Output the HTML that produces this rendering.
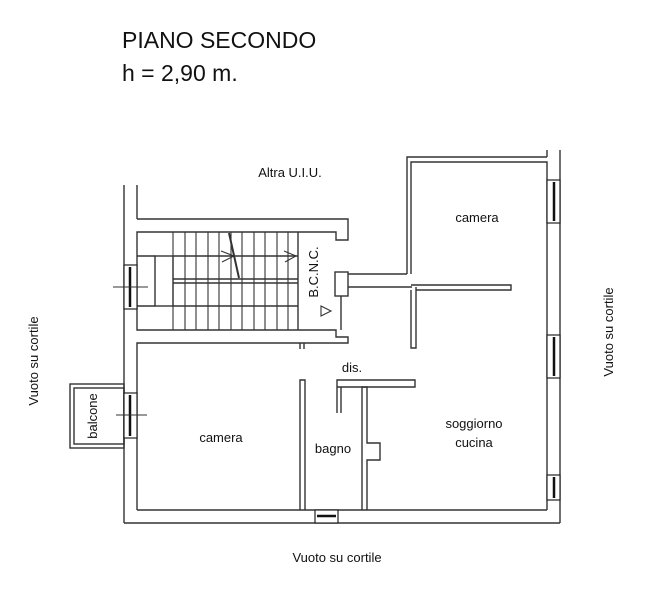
<!DOCTYPE html>
<html><head><meta charset="utf-8"><style>
html,body{margin:0;padding:0;background:#fff;width:648px;height:600px;overflow:hidden}
svg{display:block}
text{font-family:"Liberation Sans",Arial,sans-serif;fill:#111}
</style></head><body>
<svg width="648" height="600" viewBox="0 0 648 600" xmlns="http://www.w3.org/2000/svg">
<rect width="648" height="600" fill="#fff"/>
<text x="122" y="48" font-size="23">PIANO SECONDO</text>
<text x="122" y="81" font-size="23">h = 2,90 m.</text>
<text x="290" y="177" font-size="13" text-anchor="middle">Altra U.I.U.</text>
<text transform="translate(38,361) rotate(-90)" font-size="13" text-anchor="middle">Vuoto su cortile</text>
<text transform="translate(613,332) rotate(-90)" font-size="13" text-anchor="middle">Vuoto su cortile</text>
<text x="337" y="562" font-size="13" text-anchor="middle">Vuoto su cortile</text>

<g fill="none" stroke="#333" stroke-width="1.4">
<!-- outer left wall -->
<line x1="124" y1="185" x2="124" y2="523"/>
<line x1="137" y1="185" x2="137" y2="219"/>
<!-- stair block -->
<polyline points="137,219 348,219 348,240 336,240 336,232 137,232 137,330 336,330 336,337 348,337 348,343 137,343 137,510"/>
<!-- bottom -->
<line x1="124" y1="523" x2="560" y2="523"/>
<line x1="137" y1="510" x2="547" y2="510"/>
<!-- right -->
<line x1="560" y1="150" x2="560" y2="523"/>
<line x1="547" y1="150" x2="547" y2="157"/>
<polyline points="407,274 407,157 547,157"/>
<polyline points="411,274 411,162 547,162 547,510"/>
<!-- pillar & corridor -->
<polyline points="348,274 407,274"/>
<rect x="335" y="272" width="13" height="24"/>
<line x1="348" y1="287" x2="412" y2="287"/>
<line x1="341" y1="296" x2="341" y2="330"/>
<polyline points="416,287 416,348 411,348 411,290"/>
<polyline points="411,285 511,285 511,290 416,290"/>
<!-- stairs -->
<rect x="155" y="256" width="18" height="50"/>
<line x1="137" y1="256" x2="155" y2="256"/>
<line x1="137" y1="306" x2="155" y2="306"/>
<line x1="173" y1="279" x2="298" y2="279"/>
<line x1="173" y1="283" x2="298" y2="283"/>
<line x1="173" y1="256" x2="298" y2="256"/>
<line x1="173" y1="306" x2="298" y2="306"/>
<line x1="298" y1="232" x2="298" y2="330"/>
<!-- bagno -->
<polyline points="300,510 300,380 305,380 305,510"/>
<polyline points="337,413 337,387 415,387 415,380 337,380 337,387"/>
<polyline points="341,387 341,413"/>
<polyline points="362,510 362,387 367,387 367,443 380,443 380,460 367,460 367,510"/>
<!-- balcone -->
<rect x="70" y="384" width="54" height="64"/>
<rect x="74" y="388" width="50" height="56"/>
<!-- notch -->
<line x1="300" y1="343" x2="300" y2="349"/>
<line x1="304" y1="343" x2="304" y2="349"/>
</g>
<g stroke="#333" stroke-width="1.1">
<line x1="185" y1="232" x2="185" y2="330"/>
<line x1="196" y1="232" x2="196" y2="330"/>
<line x1="208" y1="232" x2="208" y2="330"/>
<line x1="219" y1="232" x2="219" y2="330"/>
<line x1="231" y1="232" x2="231" y2="330"/>
<line x1="242" y1="232" x2="242" y2="330"/>
<line x1="254" y1="232" x2="254" y2="330"/>
<line x1="265" y1="232" x2="265" y2="330"/>
<line x1="277" y1="232" x2="277" y2="330"/>
<line x1="288" y1="232" x2="288" y2="330"/>
<line x1="173" y1="232" x2="173" y2="330"/>
<line x1="229" y1="233" x2="239" y2="278" stroke-width="2"/>
<polyline points="221,251 234,256 222,262" fill="none"/>
<polyline points="284,251 296,256 285,262" fill="none"/>
<polygon points="321,306 331,311 321,316" fill="none"/>
</g>
<!-- windows -->
<g stroke="#222" fill="#fff" stroke-width="1.2">
<rect x="124" y="265" width="13" height="44"/>
<rect x="124" y="393" width="13" height="45"/>
<rect x="547" y="180" width="13" height="43"/>
<rect x="547" y="335" width="13" height="43"/>
<rect x="547" y="475" width="13" height="25"/>
<rect x="315" y="510" width="23" height="13"/>
</g>
<g stroke="#111" stroke-width="2.5">
<line x1="130" y1="267" x2="130" y2="307"/>
<line x1="130" y1="395" x2="130" y2="436"/>
<line x1="554" y1="182" x2="554" y2="221"/>
<line x1="554" y1="337" x2="554" y2="376"/>
<line x1="554" y1="477" x2="554" y2="498"/>
<line x1="317" y1="516" x2="336" y2="516"/>
</g>
<g stroke="#333" stroke-width="1">
<line x1="113" y1="287" x2="148" y2="287"/>
<line x1="116" y1="415" x2="147" y2="415"/>
</g>
<text transform="translate(318,272) rotate(-90)" font-size="13" text-anchor="middle">B.C.N.C.</text>
<text transform="translate(97,416) rotate(-90)" font-size="13" text-anchor="middle">balcone</text>
<text x="477" y="222" font-size="13" text-anchor="middle">camera</text>
<text x="221" y="442" font-size="13" text-anchor="middle">camera</text>
<text x="352" y="372" font-size="13" text-anchor="middle">dis.</text>
<text x="333" y="453" font-size="13" text-anchor="middle">bagno</text>
<text x="474" y="428" font-size="13" text-anchor="middle">soggiorno</text>
<text x="474" y="447" font-size="13" text-anchor="middle">cucina</text>
</svg>
</body></html>
